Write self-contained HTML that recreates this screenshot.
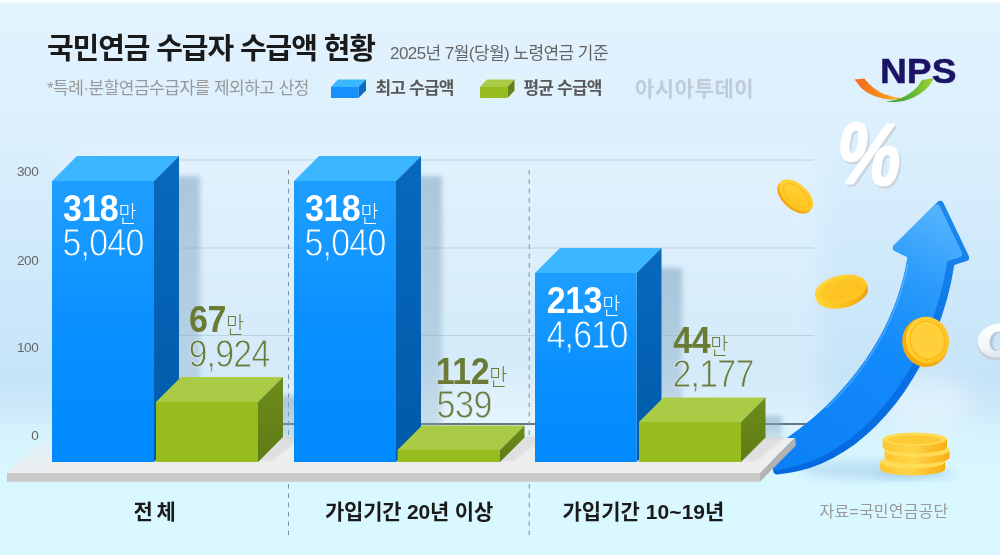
<!DOCTYPE html>
<html lang="ko">
<head>
<meta charset="utf-8">
<title>국민연금 수급자 수급액 현황</title>
<style>
html,body{margin:0;padding:0;}
body{width:1000px;height:555px;overflow:hidden;position:relative;
  font-family:"Liberation Sans","Noto Sans CJK KR",sans-serif;
  background:#d4ecfc;}
#bg{position:absolute;left:0;top:0;width:1000px;height:555px;
  background:
   linear-gradient(to bottom,#ffffff 0px,#f4fbff 2px,rgba(255,255,255,0) 4px),
   radial-gradient(ellipse 330px 60px at 480px 415px,rgba(232,246,253,.55),rgba(232,246,253,0) 100%),
   linear-gradient(to bottom,#e3f3fe 0%,#dbeffd 25%,#cfe9fb 48%,#c6e4f8 68%,#cce9fa 73.5%,#d7f4fd 78.5%,#d9f7ff 85%,#daf8ff 100%);}
svg#art{position:absolute;left:0;top:0;}
svg text{font-family:"Liberation Sans","Noto Sans CJK KR",sans-serif;}
.t{position:absolute;white-space:nowrap;line-height:1;}
#title{left:47px;top:34.5px;font-size:29px;font-weight:700;color:#1a1a1a;letter-spacing:-1.1px;}
#sub{left:390px;top:45px;font-size:17px;font-weight:400;color:#666;letter-spacing:-0.56px;}
#note{left:47px;top:80px;font-size:17px;font-weight:400;color:#999;letter-spacing:-0.5px;}
.pill{position:absolute;top:73px;height:28px;border-radius:9px;background:rgba(228,242,252,.55);}
.lg{font-size:17px;font-weight:700;color:#58595b;top:80px;letter-spacing:-0.8px;}
#wm{left:635px;top:78px;font-size:21px;font-weight:700;color:#bfccd7;letter-spacing:0.55px;}
.ax{font-size:13.5px;color:#666;font-weight:400;width:38.5px;left:0;text-align:right;letter-spacing:-0.3px;}
.cat{font-size:21px;font-weight:700;color:#1a1a1a;top:500.5px;letter-spacing:-0.5px;}
#src{left:819.5px;top:504px;font-size:16px;color:#999;font-weight:400;letter-spacing:0.2px;}
.v1{font-size:34px;font-weight:700;letter-spacing:-0.5px;}
.v1 .n{display:inline-block;transform:scaleY(1.07);transform-origin:0 84%;}
.v1 .m{font-size:19.6px;font-weight:300;letter-spacing:0;margin-left:0.2px;position:relative;top:0.8px;display:inline-block;transform:scaleY(1.18);transform-origin:0 80%;}
.v2{font-size:34px;font-weight:400;letter-spacing:-0.8px;transform:scaleY(1.135);transform-origin:0 84%;margin-top:1.2px;margin-left:-0.6px;}
.w{color:#fff;}
.v2.w{-webkit-text-stroke:0.8px #1497ff;}
.v2.g{-webkit-text-stroke:0.8px #d3eafa;}
.g{color:#6b7a35;}
</style>
</head>
<body>
<div id="bg"></div>
<div class="pill" style="left:321px;width:146px;"></div>
<div class="pill" style="left:475px;width:139px;"></div>
<svg id="art" width="1000" height="555" viewBox="0 0 1000 555">
<defs>
  <linearGradient id="bf" x1="0" y1="0" x2="0" y2="1"><stop offset="0" stop-color="#1e9eff"/><stop offset=".5" stop-color="#0a90ff"/><stop offset="1" stop-color="#008aff"/></linearGradient>
  <linearGradient id="bs" x1="0" y1="0" x2="0" y2="1"><stop offset="0" stop-color="#0869bd"/><stop offset="1" stop-color="#005aa9"/></linearGradient>
  <linearGradient id="gs" x1="0" y1="0" x2="0" y2="1"><stop offset="0" stop-color="#6d8c1c"/><stop offset="1" stop-color="#5f7c14"/></linearGradient>
  <linearGradient id="sh" x1="0" y1="0" x2="1" y2="0"><stop offset="0" stop-color="#7fa3bf" stop-opacity=".40"/><stop offset="1" stop-color="#7fa3bf" stop-opacity="0"/></linearGradient>
  <linearGradient id="arw" gradientUnits="userSpaceOnUse" x1="800" y1="460" x2="935" y2="215"><stop offset="0" stop-color="#0c81f7"/><stop offset=".5" stop-color="#138afa"/><stop offset=".78" stop-color="#2c9cfb"/><stop offset="1" stop-color="#50b2fd"/></linearGradient>
  <linearGradient id="arwd" gradientUnits="userSpaceOnUse" x1="800" y1="460" x2="935" y2="215"><stop offset="0" stop-color="#0468de"/><stop offset=".6" stop-color="#0a73e6"/><stop offset="1" stop-color="#1a86ee"/></linearGradient>
  <linearGradient id="coinF" x1="0" y1="0" x2="1" y2="1"><stop offset="0" stop-color="#ffd63c"/><stop offset="1" stop-color="#fdc01a"/></linearGradient>
  <linearGradient id="coinE2" x1="0" y1="0" x2="1" y2="0"><stop offset="0" stop-color="#ffd83a"/><stop offset=".45" stop-color="#fbc21e"/><stop offset="1" stop-color="#f29c08"/></linearGradient>
  <linearGradient id="coinE" x1="0" y1="0" x2="1" y2="0"><stop offset="0" stop-color="#fdc62c"/><stop offset=".45" stop-color="#ffd548"/><stop offset="1" stop-color="#f8ad14"/></linearGradient>
  <linearGradient id="orng" x1="0" y1="0" x2="1" y2="0"><stop offset="0" stop-color="#f2661c"/><stop offset=".6" stop-color="#f7931e"/><stop offset="1" stop-color="#fbb42a"/></linearGradient>
  <linearGradient id="grn" x1="0" y1="0" x2="1" y2="0"><stop offset="0" stop-color="#2e9e3a"/><stop offset=".5" stop-color="#5cb531"/><stop offset="1" stop-color="#a8d038"/></linearGradient>
  <linearGradient id="ringG" x1="0" y1="0" x2="0" y2="1"><stop offset="0" stop-color="#ffffff"/><stop offset=".6" stop-color="#f4f7fa"/><stop offset="1" stop-color="#dbe3ea"/></linearGradient>
  <filter id="blur8" x="-50%" y="-50%" width="200%" height="200%"><feGaussianBlur stdDeviation="11"/></filter>
  <linearGradient id="pfade" gradientUnits="userSpaceOnUse" x1="0" y1="436" x2="0" y2="473"><stop offset="0" stop-color="#d7f4fd" stop-opacity=".9"/><stop offset=".5" stop-color="#d7f4fd" stop-opacity=".45"/><stop offset="1" stop-color="#d7f4fd" stop-opacity="0"/></linearGradient>
  <linearGradient id="shv" x1="0" y1="0" x2="0" y2="1"><stop offset="0" stop-color="#84a6c2" stop-opacity=".58"/><stop offset=".45" stop-color="#84a6c2" stop-opacity=".45"/><stop offset="1" stop-color="#84a6c2" stop-opacity=".28"/></linearGradient>
  <filter id="blur3" x="-30%" y="-30%" width="160%" height="160%"><feGaussianBlur stdDeviation="4"/></filter>
  <filter id="blur2" x="-50%" y="-10%" width="200%" height="120%"><feGaussianBlur stdDeviation="2.6"/></filter>
  <filter id="blur1" x="-30%" y="-30%" width="160%" height="160%"><feGaussianBlur stdDeviation="1.2"/></filter>
</defs>
<rect x="70" y="150" width="750" height="286" fill="#ffffff" opacity=".24" filter="url(#blur8)"/>
<!-- gridlines -->
<g stroke="#b9d2e0" stroke-width="1">
  <line x1="170" y1="160" x2="814" y2="160"/>
  <line x1="170" y1="248" x2="814" y2="248"/>
  <line x1="170" y1="335.5" x2="814" y2="335.5"/>
</g>
<line x1="180" y1="424" x2="806" y2="424" stroke="#3f4c5a" stroke-width="1.4"/>
<!-- dashed separators -->
<g stroke="#848e97" stroke-width="1" stroke-dasharray="4.6 4.7">
  <line x1="288.5" y1="170" x2="288.5" y2="436"/>
  <line x1="529.2" y1="170" x2="529.2" y2="436"/>
  <line x1="288.5" y1="484" x2="288.5" y2="536"/>
  <line x1="529.2" y1="484" x2="529.2" y2="536"/>
</g>
<!-- arrow shadow on floor -->
<ellipse cx="870" cy="470" rx="70" ry="10" fill="#9cc6e8" opacity=".45" filter="url(#blur3)"/>
<ellipse cx="925" cy="402" rx="46" ry="28" fill="#ffffff" opacity=".36" filter="url(#blur8)"/>
<!-- arrow (behind platform) -->
<g id="arrow">
<path d="M771.9,448.0 770.6,449.5 770.3,451.5 773.3,471.5 774.1,473.3 775.7,474.3 777.0,474.5 784.8,473.6 791.2,472.6 797.6,471.3 809.9,467.9 821.8,463.4 833.2,457.9 844.2,451.5 854.6,444.4 866.1,435.1 875.6,426.3 885.9,415.3 895.6,403.7 904.6,391.4 912.9,378.5 921.6,363.4 929.3,347.7 936.1,331.7 942.0,315.5 947.0,299.2 951.0,283.0 954.3,264.9 967.4,260.7 968.8,259.4 969.2,258.1 968.9,256.2 943.4,202.8 942.1,201.3 940.2,200.8 938.9,201.0 937.8,201.8 893.8,245.4 893.0,246.6 892.7,247.9 893.0,249.2 894.2,250.8 907.6,257.0 906.0,265.7 903.8,276.0 901.0,286.2 897.3,297.9 893.6,307.7 888.8,319.0 884.3,328.4 878.5,339.2 872.2,349.8 865.5,360.0 856.1,372.8 846.1,385.0 835.5,396.8 824.3,407.9 812.5,418.5 798.8,429.5 786.1,438.8Z" fill="url(#arwd)"/>
<path d="M771.9,448.0 770.6,449.5 770.3,451.5 772.8,467.9 774.0,469.5 775.2,470.1 776.6,470.2 784.3,469.0 796.9,466.1 808.9,462.1 820.6,457.1 829.9,452.3 840.7,445.6 850.9,438.2 860.8,430.0 870.1,421.2 880.3,410.1 888.6,400.0 897.6,387.8 905.9,374.9 914.6,359.8 922.3,344.1 929.1,328.1 935.0,311.9 940.0,295.6 944.0,279.4 947.3,261.3 960.4,257.1 961.8,255.8 962.2,254.5 961.9,252.6 939.8,206.3 938.5,204.8 936.6,204.3 935.3,204.6 934.2,205.3 894.0,245.2 893.3,246.3 893.0,247.6 893.2,248.9 894.5,250.5 900.5,253.4 901.8,254.4 907.6,257.0 906.0,265.7 903.8,276.0 901.0,286.2 897.3,297.9 893.6,307.7 888.8,319.0 884.3,328.4 878.5,339.2 872.2,349.8 865.5,360.0 856.1,372.8 846.1,385.0 835.5,396.8 824.3,407.9 812.5,418.5 798.8,429.5 786.1,438.8Z" fill="url(#arw)"/>
<path d="M826.7,407.7 828.0,406.5 829.3,405.3 830.5,404.0 831.8,402.8 833.0,401.6 834.2,400.3 835.5,399.0 836.7,397.8 837.9,396.5 839.1,395.2 840.3,393.9 841.5,392.6 842.7,391.3 843.8,390.0 845.0,388.7 846.2,387.4 847.3,386.0 848.5,384.7 849.6,383.4 850.7,382.0 851.9,380.7 853.0,379.3 854.1,377.9 855.2,376.6 856.3,375.2 857.3,373.8 858.4,372.4 859.5,371.0 860.5,369.6 861.6,368.2 862.6,366.8 863.6,365.3 864.6,363.9 865.7,362.5 866.7,361.0 867.6,359.6 868.6,358.1 869.6,356.7 870.6,355.2 871.5,353.7 872.5,352.2 873.4,350.8 874.3,349.3 875.2,347.8 876.1,346.3 877.0,344.8 877.9,343.3 878.8,341.7 879.7,340.2 880.5,338.7 881.4,337.2 882.2,335.6 883.0,334.1 883.8,332.5 884.7,331.0 885.4,329.4 886.2,327.9 887.0,326.3 887.8,324.7 888.5,323.1 889.3,321.6 890.0,320.0 890.7,318.4 891.4,316.8 892.1,315.2 892.8,313.6 893.5,311.9 894.1,310.3 894.8,308.7 895.4,307.1 896.1,305.4 896.7,303.8 897.3,302.2 897.9,300.5 898.5,298.9 899.0,297.2 899.6,295.6 900.2,293.9 900.7,292.2 901.2,290.6 901.7,288.9 902.2,287.2 902.7,285.5 903.2,283.8 903.7,282.1 904.1,280.4 904.5,278.7 905.0,277.0 905.4,275.3 905.8,273.6 906.2,271.9 906.5,270.2 906.9,268.4 907.2,266.7 907.6,265.0" fill="none" stroke="#7cc6ff" stroke-width="1.4" stroke-linecap="round" opacity=".5"/>
</g>
<!-- platform -->
<polygon points="47,436.3 795.3,437.6 760,473 7,473" fill="#eeeeee"/>
<polygon points="47,436 53,436 53,473 7,473" fill="url(#pfade)"/>
<polygon points="7,473 760,473 760,481.8 7,481.8" fill="#c9c9c9"/>
<polygon points="795.3,437.6 795.8,445.5 760,481.8 760,473" fill="#b3b3b3"/>
<g fill="#5a6670" opacity=".10" filter="url(#blur1)">
  <polygon points="258,461 283,436 304,436 272,461"/>
  <polygon points="500,461 524,436 545,436 514,461"/>
  <polygon points="741,461 765,436 788,436 756,461"/>
</g>
<rect x="175" y="176" width="25" height="261" fill="url(#shv)" filter="url(#blur2)"/>
<rect x="417" y="176" width="25" height="261" fill="url(#shv)" filter="url(#blur2)"/>
<rect x="657" y="268" width="25" height="169" fill="url(#shv)" filter="url(#blur2)"/>
<rect x="279" y="396" width="21" height="41" fill="url(#shv)" filter="url(#blur2)"/>
<rect x="761" y="416" width="21" height="21" fill="url(#shv)" filter="url(#blur2)"/>
<polygon points="52,181 77,156 179,156 154,181" fill="#3cb6ff"/>
<polygon points="154,181 179,156 179,437 154,462" fill="url(#bs)"/>
<rect x="52" y="181" width="102" height="281" fill="url(#bf)"/>
<polygon points="156,402 181,377 283,377 258,402" fill="#a9cb45"/>
<polygon points="258,402 283,377 283,437 258,462" fill="url(#gs)"/>
<rect x="156" y="402" width="102" height="60" fill="#96bc1e"/>
<polygon points="294,181 319,156 421,156 396,181" fill="#3cb6ff"/>
<polygon points="396,181 421,156 421,437 396,462" fill="url(#bs)"/>
<rect x="294" y="181" width="102" height="281" fill="url(#bf)"/>
<polygon points="397.5,450 422.0,425.5 524.5,425.5 500,450" fill="#a9cb45"/>
<polygon points="500,450 524.5,425.5 524.5,437.5 500,462" fill="url(#gs)"/>
<rect x="397.5" y="450" width="102.5" height="12" fill="#96bc1e"/>
<polygon points="535,273 560,248 661.5,248 636.5,273" fill="#3cb6ff"/>
<polygon points="636.5,273 661.5,248 661.5,437 636.5,462" fill="url(#bs)"/>
<rect x="535" y="273" width="101.5" height="189" fill="url(#bf)"/>
<polygon points="639,422 663.5,397.5 765.5,397.5 741,422" fill="#a9cb45"/>
<polygon points="741,422 765.5,397.5 765.5,437.5 741,462" fill="url(#gs)"/>
<rect x="639" y="422" width="102" height="40" fill="#96bc1e"/>
<!-- legend icons -->
<g>
  <polygon points="331,87 338,79.5 366,79.5 358.5,87" fill="#3cb6ff"/>
  <polygon points="358.5,87 366,79.5 366,90.5 358.5,98" fill="#0a6cc0"/>
  <rect x="331" y="87" width="27.5" height="11" fill="#1490ff"/>
  <polygon points="480,87 487,79.5 514.5,79.5 507.5,87" fill="#a9cb45"/>
  <polygon points="507.5,87 514.5,79.5 514.5,90.5 507.5,98" fill="#64821a"/>
  <rect x="480" y="87" width="27.5" height="11" fill="#96bc1e"/>
</g>
<!-- NPS logo -->
<g id="nps">
  <text x="880" y="82.8" font-size="34.5" font-weight="700" fill="#1b1464" stroke="#1b1464" stroke-width=".5" textLength="76.5" lengthAdjust="spacingAndGlyphs">NPS</text>
  <path d="M864.2,78.6 865.1,79.5 865.9,80.4 866.8,81.4 867.7,82.3 868.5,83.3 869.4,84.2 870.4,85.1 871.4,86.0 872.5,86.9 873.6,87.8 874.7,88.6 875.9,89.5 877.1,90.3 878.4,91.1 879.7,91.9 881.0,92.6 882.4,93.3 883.9,93.9 885.5,94.5 887.1,95.0 888.7,95.6 890.2,96.0 891.7,96.4 893.0,96.8 894.2,97.1 895.4,97.3 896.4,97.4 897.4,97.5 898.4,97.6 899.4,97.7 900.4,97.8 901.4,97.9 L901.4,98.2 901.0,98.4 900.7,98.5 900.4,98.7 900.1,98.9 899.7,99.0 899.2,99.1 898.6,99.2 897.8,99.3 896.8,99.4 895.6,99.4 894.3,99.5 892.9,99.5 891.5,99.5 890.0,99.5 888.5,99.4 887.0,99.2 885.6,99.0 884.1,98.7 882.6,98.4 881.1,98.1 879.6,97.7 878.0,97.3 876.5,96.8 875.0,96.2 873.5,95.6 871.9,94.9 870.3,94.1 868.8,93.4 867.2,92.5 865.7,91.6 864.3,90.6 863.0,89.6 861.8,88.5 860.6,87.3 859.6,86.0 858.6,84.7 857.6,83.4 856.6,82.0 855.6,80.7 854.6,79.4Z" fill="url(#orng)"/>
  <path d="M921.8,80.0 921.2,80.9 920.7,81.8 920.1,82.8 919.6,83.7 919.0,84.6 918.4,85.5 917.7,86.4 917.0,87.2 916.2,88.0 915.4,88.8 914.5,89.6 913.6,90.4 912.7,91.1 911.7,91.8 910.8,92.5 909.8,93.2 908.8,93.9 907.8,94.5 906.7,95.2 905.7,95.8 904.6,96.4 903.5,97.0 902.5,97.5 901.4,98.0 900.3,98.4 899.2,98.8 898.1,99.2 897.1,99.5 896.0,99.7 894.9,100.0 893.9,100.2 893.0,100.4 892.1,100.6 891.3,100.7 890.6,100.8 889.9,100.9 889.1,100.9 888.4,101.0 887.7,101.0 887.0,101.1 L887.0,101.5 887.7,101.6 888.4,101.6 889.1,101.7 889.8,101.8 890.5,101.9 891.2,101.9 892.1,102.0 893.0,102.0 894.0,101.9 895.1,101.9 896.3,101.8 897.6,101.8 898.8,101.7 900.1,101.5 901.4,101.3 902.6,101.1 903.8,100.9 905.0,100.6 906.2,100.2 907.4,99.8 908.6,99.4 909.8,99.0 911.0,98.5 912.2,98.0 913.4,97.4 914.7,96.8 915.9,96.2 917.2,95.5 918.4,94.8 919.6,94.1 920.7,93.3 921.8,92.6 922.8,91.8 923.8,91.1 924.8,90.3 925.7,89.5 926.6,88.6 927.4,87.8 928.2,86.9 929.0,86.0 929.7,85.1 930.4,84.1 931.0,83.2 931.6,82.2 932.1,81.2 932.7,80.2 933.2,79.2 933.8,78.2Z" fill="url(#grn)"/>
</g>
<!-- percent -->
<g id="pct" transform="matrix(0.847,0.031,-0.155,1.032,870,153)">
  <text x="2.6" y="32" text-anchor="middle" font-size="84" font-weight="700" fill="#cbd5de" stroke="#cbd5de" stroke-width="2.2" stroke-linejoin="round">%</text>
  <text x="0" y="30" text-anchor="middle" font-size="84" font-weight="700" fill="#ffffff" stroke="#ffffff" stroke-width="2.2" stroke-linejoin="round">%</text>
</g>
<!-- coins -->
<g id="coin1" transform="translate(796,195.5) rotate(42)">
  <ellipse cx="0" cy="2.6" rx="20.5" ry="11.5" fill="#f6a70e"/>
  <ellipse cx="0" cy="0" rx="20.5" ry="11.5" fill="url(#coinF)"/>
  <ellipse cx="0" cy="0" rx="15.5" ry="8" fill="none" stroke="#f9ba1c" stroke-width="1"/>
</g>
<g id="coin2" transform="translate(841,289.5) rotate(-13)">
  <path d="M-26.5,0 v4.5 a26.5,14 0 0 0 53,0 v-4.5 z" fill="url(#coinE2)"/>
  <ellipse cx="0" cy="0" rx="26.5" ry="14" fill="url(#coinF)"/>
  <ellipse cx="0" cy="0.3" rx="21" ry="10.3" fill="#fcc01c" opacity=".55"/>
</g>
<g id="coin3" transform="translate(926,341)">
  <ellipse cx="-1" cy="1" rx="23" ry="25" fill="#f6a90f" transform="rotate(-15)"/>
  <ellipse cx="1.5" cy="-0.5" rx="21.5" ry="23.5" fill="url(#coinF)" transform="rotate(-15)"/>
  <ellipse cx="1.5" cy="-0.5" rx="17" ry="19" fill="#ffd03a" stroke="#f8b81a" stroke-width="1.2" transform="rotate(-15)"/>
</g>
<!-- white ring 0 -->
<g id="ring">
  <ellipse cx="998.5" cy="343" rx="21.5" ry="17.4" fill="#c4cfda" transform="rotate(-8 998.5 343)"/>
  <ellipse cx="999" cy="340.6" rx="21.5" ry="17" fill="url(#ringG)" transform="rotate(-8 999 340.6)"/>
  <ellipse cx="997" cy="341.2" rx="7.4" ry="9.8" fill="#b9c6d3" transform="rotate(14 997 341.2)"/>
  <ellipse cx="998.8" cy="341.6" rx="6" ry="9" fill="#cbe5f8" transform="rotate(14 998.8 341.6)"/>
</g>
<!-- coin stack -->
<g id="stack">
  <ellipse cx="914" cy="474" rx="42" ry="4.5" fill="#8cc4ee" opacity=".5" filter="url(#blur3)"/>
  <g>
    <path d="M880.2,462 v7 a32.5,6.5 0 0 0 65,0 v-7 z" fill="url(#coinE)"/>
    <ellipse cx="912.7" cy="462" rx="32.5" ry="6.5" fill="#ffdc58"/>
  </g>
  <g>
    <path d="M884.6,450.5 v7 a32.5,6.5 0 0 0 65,0 v-7 z" fill="url(#coinE)"/>
    <ellipse cx="917.1" cy="450.5" rx="32.5" ry="6.5" fill="#ffdc58"/>
  </g>
  <g>
    <path d="M882.6,439 v8 a32.2,6.5 0 0 0 64.4,0 v-8 z" fill="url(#coinE)"/>
    <ellipse cx="914.8" cy="439" rx="32.2" ry="6.5" fill="#ffdc55"/>
    <ellipse cx="914.8" cy="439.8" rx="27" ry="4.4" fill="#fdca36"/>
  </g>
</g>
</svg>
<div class="t" id="title">국민연금 수급자 수급액 현황</div>
<div class="t" id="sub">2025년 7월(당월) 노령연금 기준</div>
<div class="t" id="note">*특례·분할연금수급자를 제외하고 산정</div>
<div class="t lg" style="left:375.5px;">최고 수급액</div>
<div class="t lg" style="left:523.5px;">평균 수급액</div>
<div class="t" id="wm">아시아투데이</div>
<div class="t ax" style="top:165px;">300</div>
<div class="t ax" style="top:254px;">200</div>
<div class="t ax" style="top:341px;">100</div>
<div class="t ax" style="top:429px;">0</div>
<div class="t v1 w" style="left:63px;top:192px;"><b class="n">318</b><span class="m">만</span></div>
<div class="t v2 w" style="left:63px;top:226px;">5,040</div>
<div class="t v1 w" style="left:305px;top:192px;"><b class="n">318</b><span class="m">만</span></div>
<div class="t v2 w" style="left:305px;top:226px;">5,040</div>
<div class="t v1 w" style="left:546.8px;top:284.4px;"><b class="n">213</b><span class="m">만</span></div>
<div class="t v2 w" style="left:547px;top:318px;">4,610</div>
<div class="t v1 g" style="left:189px;top:303px;"><b class="n">67</b><span class="m">만</span></div>
<div class="t v2 g" style="left:189px;top:337px;">9,924</div>
<div class="t v1 g" style="left:435.7px;top:355.2px;"><b class="n">112</b><span class="m">만</span></div>
<div class="t v2 g" style="left:437px;top:388px;letter-spacing:-0.3px;">539</div>
<div class="t v1 g" style="left:673.3px;top:324.2px;"><b class="n">44</b><span class="m">만</span></div>
<div class="t v2 g" style="left:673px;top:357px;">2,177</div>
<div class="t cat" style="left:133.5px;word-spacing:-1.2px;">전 체</div>
<div class="t cat" style="left:325px;letter-spacing:-0.2px;">가입기간 20년 이상</div>
<div class="t cat" style="left:562.5px;letter-spacing:0.05px;">가입기간 10~19년</div>
<div class="t" id="src">자료=국민연금공단</div>
</body>
</html>
